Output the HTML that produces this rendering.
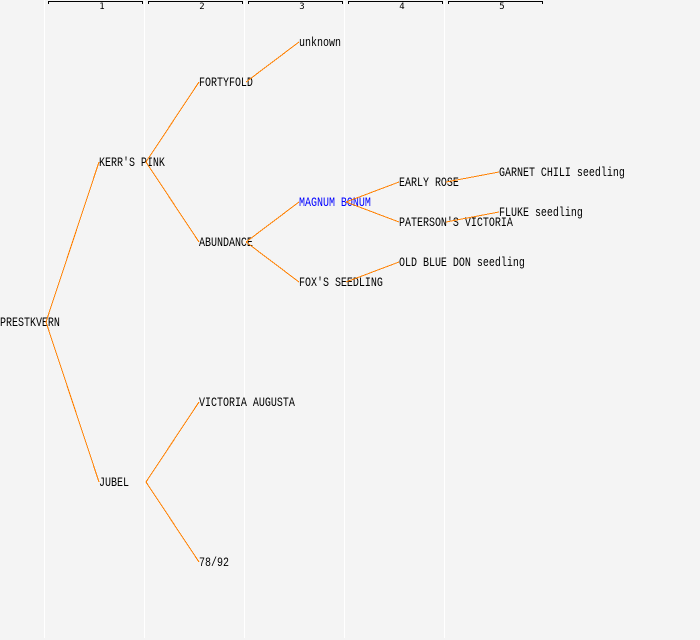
<!DOCTYPE html>
<html><head><meta charset="utf-8"><style>
html,body{margin:0;padding:0;background:#f4f4f4}
svg{display:block}
text{font-family:"Liberation Mono","DejaVu Sans Mono",monospace;font-size:10px;fill:#000}
.n{font-family:"DejaVu Sans Mono","Liberation Mono",monospace;font-size:9px;text-anchor:middle}
</style></head><body>
<svg width="700" height="640" viewBox="0 0 700 640" xmlns="http://www.w3.org/2000/svg">
<rect width="700" height="640" fill="#f4f4f4"/>
<g fill="#fff"><rect x="44" y="0" width="1" height="638"/><rect x="144" y="0" width="1" height="638"/><rect x="244" y="0" width="1" height="638"/><rect x="344" y="0" width="1" height="638"/><rect x="444" y="0" width="1" height="638"/></g>
<g fill="none" stroke="#000" shape-rendering="crispEdges"><path d="M48.5 4V1.5H142.5V4"/><path d="M148.5 4V1.5H242.5V4"/><path d="M248.5 4V1.5H342.5V4"/><path d="M348.5 4V1.5H442.5V4"/><path d="M448.5 4V1.5H542.5V4"/></g>
<text class="n" x="102" y="9">1</text><text class="n" x="202" y="9">2</text><text class="n" x="302" y="9">3</text><text class="n" x="402" y="9">4</text><text class="n" x="502" y="9">5</text>
<text transform="translate(0,326) scale(1,1.3)">PRESTKVERN</text>
<text transform="translate(99,166) scale(1,1.3)">KERR'S PINK</text>
<text transform="translate(99,486) scale(1,1.3)">JUBEL</text>
<text transform="translate(199,86) scale(1,1.3)">FORTYFOLD</text>
<text transform="translate(199,246) scale(1,1.3)">ABUNDANCE</text>
<text transform="translate(199,406) scale(1,1.3)">VICTORIA AUGUSTA</text>
<text transform="translate(199,566) scale(1,1.3)">78/92</text>
<text transform="translate(299,46) scale(1,1.3)">unknown</text>
<text transform="translate(299,206) scale(1,1.3)" style="fill:#00f">MAGNUM BONUM</text>
<text transform="translate(299,286) scale(1,1.3)">FOX'S SEEDLING</text>
<text transform="translate(399,186) scale(1,1.3)">EARLY ROSE</text>
<text transform="translate(399,226) scale(1,1.3)">PATERSON'S VICTORIA</text>
<text transform="translate(399,266) scale(1,1.3)">OLD BLUE DON seedling</text>
<text transform="translate(499,176) scale(1,1.3)">GARNET CHILI seedling</text>
<text transform="translate(499,216) scale(1,1.3)">FLUKE seedling</text>
<g stroke="#ff8000" stroke-width="1" fill="none" shape-rendering="crispEdges">
<path d="M46 322L99 162M46 322L99 482M146 162L199 82M146 162L199 242M146 482L199 402M146 482L199 562M246 82L299 42M246 242L299 202M246 242L299 282M346 202L399 182M346 202L399 222M346 282L399 262M446 182L499 172M446 222L499 212"/>
</g>
</svg>
</body></html>
